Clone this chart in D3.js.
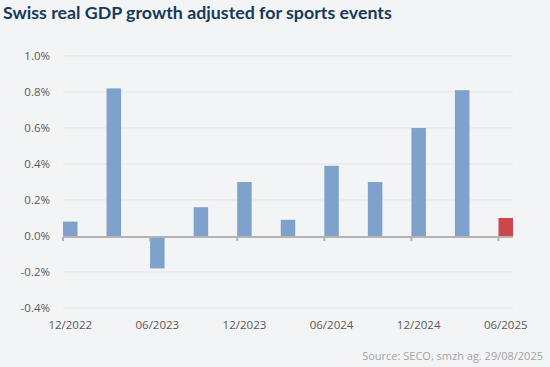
<!DOCTYPE html>
<html>
<head>
<meta charset="utf-8">
<script src="https://cdn.jsdelivr.net/npm/d3@7"></script>
<style>
  body { margin: 0; background: #f3f4f6; }
  svg { display: block; font-family: "Open Sans", sans-serif; }
</style>
</head>
<body>
<script>
// quarterly data, last one highlighted
const quarters = ["12/2022", "03/2023", "06/2023", "09/2023", "12/2023", "03/2024",
                  "06/2024", "09/2024", "12/2024", "03/2025", "06/2025"];
const growth = [0.08, 0.82, -0.18, 0.16, 0.30, 0.09, 0.39, 0.30, 0.60, 0.81, 0.10];
const yTicks = [-0.4, -0.2, 0, 0.2, 0.4, 0.6, 0.8, 1.0];
const tickLabels = ["12/2022", "06/2023", "12/2023", "06/2024", "12/2024", "06/2025"];

const width = 550, height = 367;
const barW = 14.5;

const svg = d3.select("body")
    .append("svg")
    .attr("width", width)
    .attr("height", height);

svg.append("rect").attr("width", width).attr("height", height).attr("fill", "#f3f4f6");

// bar centres
const x = d3.scalePoint()
    .domain(quarters)
    .range([63 + barW / 2, 513 - barW / 2]);

const y = d3.scaleLinear()
    .domain([-0.4, 1.0])
    .range([308, 56]);

// gridlines
svg.append("g")
    .selectAll("line")
    .data(yTicks.filter(d => d !== 0))
    .join("line")
    .attr("x1", 63).attr("x2", 513)
    .attr("y1", d => y(d)).attr("y2", d => y(d))
    .attr("stroke", "#e3e5e8")
    .attr("stroke-width", 1);

// y labels
svg.append("g")
    .selectAll("text")
    .data(yTicks)
    .join("text")
    .attr("x", 50)
    .attr("y", d => y(d))
    .attr("dy", "0.35em")
    .attr("text-anchor", "end")
    .attr("fill", "#595959")
    .attr("font-size", 11.5)
    .text(d => d3.format(".1f")(d).replace("−", "-") + "%");

// bars
svg.append("g")
    .selectAll("rect")
    .data(growth)
    .join("rect")
    .attr("x", (d, i) => x(quarters[i]) - barW / 2)
    .attr("width", barW)
    .attr("y", d => y(Math.max(0, d)))
    .attr("height", d => Math.abs(y(d) - y(0)))
    .attr("fill", (d, i) => i === growth.length - 1 ? "#c9474d" : "#7ea2cb");

// zero axis line with ticks
svg.append("line")
    .attr("x1", 63).attr("x2", 513)
    .attr("y1", y(0) + 1).attr("y2", y(0) + 1)
    .attr("stroke", "#b3b3b3")
    .attr("stroke-width", 2);

svg.append("g")
    .selectAll("line")
    .data(tickLabels)
    .join("line")
    .attr("x1", d => x(d) - barW / 2).attr("x2", d => x(d) - barW / 2)
    .attr("y1", y(0) + 1).attr("y2", y(0) + 5)
    .attr("stroke", "#b3b3b3")
    .attr("stroke-width", 2);

// x labels
svg.append("g")
    .selectAll("text")
    .data(tickLabels)
    .join("text")
    .attr("x", d => x(d))
    .attr("y", 329)
    .attr("text-anchor", "middle")
    .attr("fill", "#595959")
    .attr("font-size", 11.5)
    .text(d => d);

// title - shrink to the width it has in the original
const title = svg.append("text")
    .attr("x", 3)
    .attr("y", 19)
    .attr("fill", "#163a5c")
    .attr("font-family", "Lato, sans-serif")
    .attr("font-size", 20)
    .attr("font-weight", "bold")
    .text("Swiss real GDP growth adjusted for sports events");
const tw = title.node().getComputedTextLength();
title.attr("font-size", 20 * 389 / tw);

// source
svg.append("text")
    .attr("x", 543)
    .attr("y", 360)
    .attr("text-anchor", "end")
    .attr("fill", "#a3a3a3")
    .attr("font-size", 11)
    .text("Source: SECO, smzh ag. 29/08/2025");
</script>
</body>
</html>
